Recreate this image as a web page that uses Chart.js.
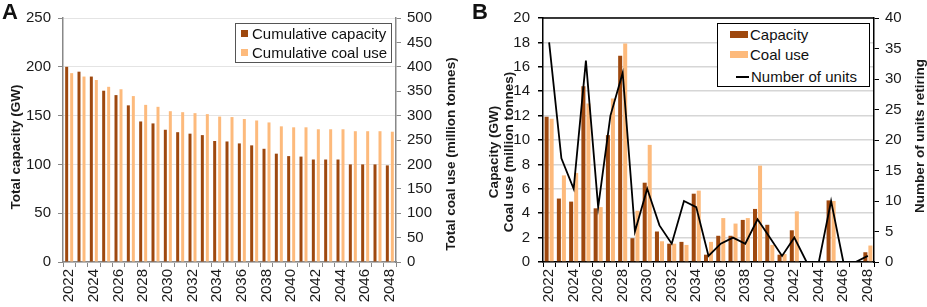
<!DOCTYPE html>
<html>
<head>
<meta charset="utf-8">
<script src="https://cdn.jsdelivr.net/npm/chart.js@4.4.1/dist/chart.umd.min.js"></script>
<style>
  body { margin: 0; background: #fff; font-family: "Liberation Sans", Arial, sans-serif; }
  #wrap { position: relative; width: 927px; height: 307px; overflow: hidden; }
  .cv { position: absolute; top: 0; }
  .panel { position: absolute; top: -1px; font-weight: bold; font-size: 22px; color: #111; }
  .legend { position: absolute; background: #fff; font-size: 15px; color: #111; box-sizing: border-box; }
  .legend .row { position: absolute; left: 0; white-space: nowrap; line-height: 17px; }
  .legend .mk { position: absolute; }
</style>
</head>
<body>
<div id="wrap">
  <canvas id="chartA" class="cv" style="left:0" width="470" height="307"></canvas>
  <canvas id="chartB" class="cv" style="left:470px" width="457" height="307"></canvas>
  <div class="panel" style="left:2px">A</div>
  <div class="panel" style="left:472px">B</div>
  <div id="legendA" class="legend" style="left:235px;top:23px;width:157px;height:40px;border:1px solid #555"></div>
  <div id="legendB" class="legend" style="left:717px;top:23px;width:153px;height:64px;border:1.5px solid #000"></div>
</div>
<script>
// categories
const years = ["2022","2023","2024","2025","2026","2027","2028","2029","2030","2031","2032","2033","2034",
  "2035","2036","2037","2038","2039","2040","2041","2042","2043","2044","2045","2046","2047","2048"];

// panel A: cumulative values
const cumCapacity = [200, 195, 190, 175.5, 171, 160.5, 144, 142, 135.5, 133, 131.5, 130, 124,
  123.5, 121.5, 119.5, 116, 111, 108.5, 108, 105, 105, 105, 100, 100, 100, 99];
const cumCoal = [387, 380, 373, 359, 354, 340, 322, 318, 309, 307, 305, 303, 298,
  297, 293, 290, 286, 278, 276, 276, 272, 272, 272, 268, 268, 268, 267];

// panel B: retirements per year
const capacity = [11.9, 5.2, 4.95, 14.4, 4.4, 10.4, 16.9, 1.95, 6.5, 2.5, 1.5, 1.65, 5.6,
  0.6, 2.15, 2.15, 3.45, 4.35, 3.05, 0.6, 2.6, 0, 0, 5.05, 0, 0, 0.8];
const coalUse = [11.75, 7.1, 7.3, 13.0, 4.5, 13.4, 17.9, 4.2, 9.6, 1.7, 1.5, 1.4, 5.85,
  1.65, 3.6, 3.15, 3.6, 7.9, 1.4, 0.65, 4.15, 0, 0, 5.0, 0, 0, 1.35];
const unitsRetiring = [36, 17, 12, 33, 9, 24, 31, 5, 12, 6, 3, 10, 9,
  1, 3, 4, 3, 7, 4, 1, 4, 0, 0, 10, 0, 0, 1];

const DARK = "#9E480E";
const LIGHT = "#FDBA7C";
const FONT = "'Liberation Sans', Arial, sans-serif";

Chart.defaults.font.family = FONT;
Chart.defaults.font.size = 15;
Chart.defaults.color = "#1a1a1a";

const evenYear = function (val, i) { return i % 2 === 0 ? this.getLabelForValue(val) : ""; };

// top frame line for panel B
const topFrame = {
  id: "topFrame",
  afterDraw(chart, args, opts) {
    if (!opts.color) return;
    const a = chart.chartArea, ctx = chart.ctx;
    ctx.save();
    ctx.strokeStyle = opts.color;
    ctx.lineWidth = opts.width;
    ctx.beginPath();
    ctx.moveTo(a.left, a.top);
    ctx.lineTo(a.right, a.top);
    ctx.stroke();
    ctx.restore();
  }
};

// vertical axis titles, all reading bottom to top
const axisTitles = {
  id: "axisTitles",
  afterDraw(chart, args, opts) {
    const ctx = chart.ctx;
    (opts.items || []).forEach(t => {
      const s = chart.scales[t.scale];
      const x0 = t.edge === "left" ? s.left + t.offset : s.right - t.offset;
      const gap = t.lineGap || 0;
      ctx.save();
      ctx.translate(x0, (s.top + s.bottom) / 2 + (t.shift || 0));
      ctx.rotate(-Math.PI / 2);
      ctx.font = "bold " + t.size + "px " + FONT;
      ctx.fillStyle = "#1a1a1a";
      ctx.textAlign = "center";
      ctx.textBaseline = "middle";
      t.lines.forEach((line, i) => ctx.fillText(line, 0, i * gap));
      ctx.restore();
    });
  }
};

// ---- Panel A ----
new Chart(document.getElementById("chartA"), {
  type: "bar",
  data: {
    labels: years,
    datasets: [
      { label: "Cumulative capacity", data: cumCapacity, backgroundColor: DARK, yAxisID: "y",
        categoryPercentage: 0.81, barPercentage: 0.6 },
      { label: "Cumulative coal use", data: cumCoal, backgroundColor: LIGHT, yAxisID: "y2",
        categoryPercentage: 0.81, barPercentage: 0.6 }
    ]
  },
  plugins: [axisTitles],
  options: {
    responsive: false,
    animation: false,
    layout: { padding: { top: 18, left: 0, right: 0, bottom: 0 } },
    plugins: {
      legend: { display: false }, tooltip: { enabled: false },
      axisTitles: { items: [
        { scale: "y", edge: "left", offset: 16, shift: 7, size: 13.5, lines: ["Total capacity (GW)"] },
        { scale: "y2", edge: "right", offset: 19, shift: 14, size: 13.5, lines: ["Total coal use (million tonnes)"] }
      ] }
    },
    scales: {
      x: {
        afterFit: s => { s.height = 45; },
        grid: { offset: true, drawOnChartArea: false, tickLength: 5, tickColor: "#888" },
        border: { color: "#888", width: 1.5 },
        ticks: { autoSkip: false, minRotation: 90, maxRotation: 90, padding: 2, callback: evenYear }
      },
      y: {
        position: "left", min: 0, max: 250,
        afterFit: s => { s.width = 63; },
        grid: { color: "#e4e4e4", tickLength: 5, tickColor: "#888" },
        border: { color: "#888", width: 1.5 },
        ticks: { stepSize: 50, padding: 7 }
      },
      y2: {
        position: "right", min: 0, max: 500,
        afterFit: s => { s.width = 74; },
        grid: { drawOnChartArea: false, tickLength: 5, tickColor: "#888" },
        border: { color: "#888", width: 1.5 },
        ticks: { stepSize: 50, padding: 6 }
      }
    }
  }
});

// ---- Panel B ----
new Chart(document.getElementById("chartB"), {
  type: "bar",
  data: {
    labels: years,
    datasets: [
      { type: "line", label: "Number of units", data: unitsRetiring, yAxisID: "y2", order: 0,
        borderColor: "#000", borderWidth: 1.8, pointRadius: 0, tension: 0, fill: false },
      { label: "Capacity", data: capacity, backgroundColor: DARK, yAxisID: "y", order: 1,
        categoryPercentage: 0.82, barPercentage: 0.8 },
      { label: "Coal use", data: coalUse, backgroundColor: LIGHT, yAxisID: "y", order: 1,
        categoryPercentage: 0.82, barPercentage: 0.8 }
    ]
  },
  plugins: [topFrame, axisTitles],
  options: {
    responsive: false,
    animation: false,
    layout: { padding: { top: 18, left: 0, right: 0, bottom: 0 } },
    plugins: {
      legend: { display: false }, tooltip: { enabled: false },
      topFrame: { color: "#000", width: 1.5 },
      axisTitles: { items: [
        { scale: "y", edge: "left", offset: 24, shift: 12, size: 13.5, lineGap: 15,
          lines: ["Capacity (GW)", "Coal use (million tonnes)"] },
        { scale: "y2", edge: "right", offset: 7, shift: -4, size: 13.5, lines: ["Number of units retiring"] }
      ] }
    },
    scales: {
      x: {
        afterFit: s => { s.height = 45; },
        grid: { offset: true, drawOnChartArea: false, tickLength: 5, tickColor: "#000" },
        border: { color: "#000", width: 1.5 },
        ticks: { autoSkip: false, minRotation: 90, maxRotation: 90, padding: 2, callback: evenYear }
      },
      y: {
        position: "left", min: 0, max: 20,
        afterFit: s => { s.width = 73; },
        grid: { color: "#d6d6d6", lineWidth: 1.5, tickLength: 5, tickColor: "#000" },
        border: { color: "#000", width: 1.5 },
        ticks: { stepSize: 2, padding: 8 }
      },
      y2: {
        position: "right", min: 0, max: 40,
        afterFit: s => { s.width = 53; },
        grid: { drawOnChartArea: false, tickLength: 5, tickColor: "#000" },
        border: { color: "#000", width: 1.5 },
        ticks: { stepSize: 5, padding: 6 }
      }
    }
  }
});

// HTML legends
function addRow(box, text, top, mark) {
  const row = document.createElement("div");
  row.className = "row";
  row.style.top = top + "px";
  row.style.left = mark.textLeft + "px";
  row.textContent = text;
  box.appendChild(row);
  const m = document.createElement("div");
  m.className = "mk";
  m.style.left = mark.left + "px";
  m.style.top = (top + mark.dy) + "px";
  m.style.width = mark.w + "px";
  m.style.height = mark.h + "px";
  m.style.background = mark.color;
  box.appendChild(m);
}
const legA = document.getElementById("legendA");
addRow(legA, "Cumulative capacity", 1, { left: 5, textLeft: 16, w: 7, h: 7, dy: 5, color: DARK });
addRow(legA, "Cumulative coal use", 20, { left: 5, textLeft: 16, w: 7, h: 7, dy: 5, color: LIGHT });

const legB = document.getElementById("legendB");
addRow(legB, "Capacity", 2, { left: 12, textLeft: 32, w: 18, h: 7, dy: 5, color: DARK });
addRow(legB, "Coal use", 22, { left: 12, textLeft: 32, w: 18, h: 7, dy: 5, color: LIGHT });
addRow(legB, "Number of units", 44, { left: 18, textLeft: 33, w: 13, h: 2, dy: 8, color: "#000" });
</script>
</body>
</html>
